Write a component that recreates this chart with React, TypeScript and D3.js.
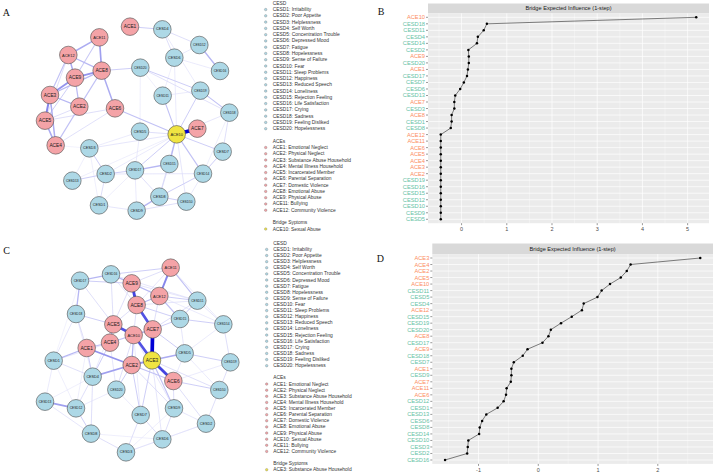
import React from "react";
import * as d3 from "d3";

const W = 715;
const H = 474;

// Item descriptions
const cesdDesc = [
  "Irritability", "Poor Appetite", "Helplessness", "Self Worth", "Concentration Trouble",
  "Depressed Mood", "Fatigue", "Hopelessness", "Sense of Failure", "Fear",
  "Sleep Problems", "Happiness", "Reduced Speech", "Loneliness", "Rejection Feeling",
  "Life Satisfaction", "Crying", "Sadness", "Feeling Disliked", "Hopelessness",
];
const aceDesc = [
  "Emotional Neglect", "Physical Neglect", "Substance Abuse Household", "Mental Illness Household",
  "Incarcerated Member", "Parental Separation", "Domestic Violence", "Emotional Abuse",
  "Physical Abuse", "Sexual Abuse", "Bullying", "Community Violence",
];

// Network 1 layout (layout grid units, 750 x 720)
const netANodes: [string, number, number][] = [
  ["ACE1", 390, 80], ["ACE11", 298, 112], ["ACE12", 205, 165], ["ACE8", 305, 212],
  ["ACE9", 225, 233], ["ACE3", 150, 285], ["ACE2", 238, 320], ["ACE6", 345, 325],
  ["ACE5", 135, 362], ["ACE4", 167, 436], ["ACE7", 592, 386], ["ACE10", 530, 403],
  ["CESD4", 487, 88], ["CESD12", 598, 135], ["CESD6", 523, 173], ["CESD16", 660, 213],
  ["CESD20", 421, 203], ["CESD19", 601, 272], ["CESD11", 488, 287], ["CESD18", 688, 338],
  ["CESD5", 420, 395], ["CESD7", 668, 455], ["CESD3", 268, 445], ["CESD15", 508, 492],
  ["CESD17", 405, 511], ["CESD2", 317, 522], ["CESD14", 609, 521], ["CESD13", 217, 542],
  ["CESD8", 478, 590], ["CESD10", 559, 605], ["CESD1", 297, 616], ["CESD9", 410, 632],
];
const netAEdges: [string, string, number][] = [
  ["ACE7", "ACE10", 1.0],
  ["ACE11", "ACE12", 0.35], ["ACE11", "ACE8", 0.4], ["ACE11", "ACE9", 0.22],
  ["ACE12", "ACE9", 0.35], ["ACE12", "ACE8", 0.3], ["ACE12", "ACE3", 0.25],
  ["ACE9", "ACE8", 0.45], ["ACE9", "ACE3", 0.45], ["ACE9", "ACE2", 0.28],
  ["ACE3", "ACE8", 0.3], ["ACE3", "ACE5", 0.5], ["ACE3", "ACE2", 0.3], ["ACE3", "ACE4", 0.35],
  ["ACE5", "ACE4", 0.35], ["ACE2", "ACE4", 0.25], ["ACE2", "ACE8", 0.25], ["ACE8", "ACE6", 0.35],
  ["ACE5", "ACE6", 0.15], ["ACE4", "ACE6", 0.14], ["ACE5", "ACE2", 0.15], ["ACE9", "ACE5", 0.2],
  ["ACE12", "ACE5", 0.15], ["ACE6", "ACE10", 0.25], ["ACE8", "CESD20", 0.2], ["ACE1", "CESD4", 0.2],
  ["ACE4", "CESD3", 0.06],
  ["CESD20", "CESD19", 0.2], ["CESD20", "CESD18", 0.14], ["CESD4", "CESD6", 0.15],
  ["CESD4", "CESD12", 0.15], ["CESD4", "CESD19", 0.1], ["CESD12", "CESD16", 0.3],
  ["CESD12", "CESD6", 0.1], ["CESD6", "CESD16", 0.1], ["CESD6", "CESD11", 0.08],
  ["CESD6", "ACE10", 0.1], ["CESD20", "CESD5", 0.08], ["CESD19", "CESD18", 0.25],
  ["CESD19", "ACE10", 0.2], ["CESD11", "ACE10", 0.25], ["CESD18", "CESD7", 0.15],
  ["CESD18", "ACE10", 0.12], ["CESD7", "ACE10", 0.2], ["CESD14", "ACE10", 0.25],
  ["CESD15", "ACE10", 0.3], ["CESD17", "ACE10", 0.2], ["CESD5", "ACE10", 0.15],
  ["CESD3", "ACE10", 0.12], ["CESD8", "ACE10", 0.15], ["CESD10", "ACE10", 0.12],
  ["CESD2", "ACE10", 0.1], ["CESD13", "ACE10", 0.08], ["CESD15", "CESD17", 0.3],
  ["CESD15", "CESD8", 0.15], ["CESD17", "CESD2", 0.2], ["CESD17", "CESD8", 0.15],
  ["CESD17", "CESD9", 0.1], ["CESD2", "CESD3", 0.2], ["CESD2", "CESD13", 0.2],
  ["CESD2", "CESD1", 0.15], ["CESD3", "CESD5", 0.1], ["CESD2", "CESD14", 0.12],
  ["CESD14", "CESD8", 0.2], ["CESD14", "CESD7", 0.2], ["CESD14", "CESD10", 0.1],
  ["CESD8", "CESD9", 0.3], ["CESD8", "CESD10", 0.2], ["CESD9", "CESD10", 0.15],
  ["CESD1", "CESD9", 0.12], ["CESD1", "CESD17", 0.08], ["CESD3", "CESD13", 0.08],
  ["CESD3", "CESD1", 0.08], ["CESD18", "CESD14", 0.08], ["CESD11", "CESD19", 0.1],
  ["CESD20", "CESD11", 0.08], ["CESD5", "CESD17", 0.1],
];
const netABridge = "ACE10";

// Network 2 layout (layout grid units, 750 x 717)
const netCNodes: [string, number, number][] = [
  ["ACE11", 512, 98], ["CESD16", 333, 118], ["CESD17", 240, 137], ["ACE9", 395, 145],
  ["ACE12", 478, 183], ["CESD11", 592, 197], ["ACE8", 410, 210], ["CESD18", 228, 237],
  ["CESD15", 540, 252], ["CESD14", 670, 268], ["ACE5", 340, 268], ["ACE7", 458, 283],
  ["ACE10", 401, 300], ["ACE4", 330, 323], ["ACE1", 260, 339], ["CESD5", 554, 355],
  ["CESD1", 161, 377], ["ACE3", 456, 376], ["ACE2", 395, 390], ["CESD19", 691, 382],
  ["ACE6", 520, 438], ["CESD4", 278, 425], ["CESD20", 349, 464], ["CESD10", 658, 465],
  ["CESD13", 135, 500], ["CESD12", 228, 520], ["CESD7", 422, 540], ["CESD9", 522, 520],
  ["CESD8", 273, 596], ["CESD2", 618, 566], ["CESD6", 487, 613], ["CESD3", 378, 652],
];
const netCEdges: [string, string, number][] = [
  ["ACE3", "ACE7", 1.0], ["ACE3", "ACE6", 0.75], ["ACE3", "ACE10", 0.7], ["ACE5", "ACE10", 0.7],
  ["ACE8", "ACE7", 0.7], ["ACE9", "ACE8", 0.75], ["ACE11", "ACE12", 0.5], ["ACE1", "ACE2", 0.45],
  ["ACE2", "ACE3", 0.45], ["ACE2", "CESD4", 0.4], ["CESD13", "CESD12", 0.4], ["ACE3", "CESD5", 0.35],
  ["ACE12", "ACE8", 0.3], ["ACE9", "ACE12", 0.3], ["ACE9", "CESD16", 0.3], ["CESD17", "CESD16", 0.3],
  ["CESD17", "CESD18", 0.3], ["ACE11", "CESD11", 0.25], ["ACE12", "CESD15", 0.25], ["ACE1", "CESD1", 0.3],
  ["ACE5", "ACE4", 0.3], ["ACE4", "ACE10", 0.25], ["ACE1", "ACE4", 0.25], ["ACE7", "ACE10", 0.3],
  ["ACE2", "ACE10", 0.3], ["ACE2", "ACE6", 0.25], ["ACE3", "CESD9", 0.25], ["ACE2", "CESD7", 0.2],
  ["ACE2", "CESD20", 0.2], ["ACE6", "CESD2", 0.15], ["ACE6", "CESD10", 0.2], ["CESD5", "CESD19", 0.2],
  ["CESD15", "CESD14", 0.2], ["CESD11", "CESD15", 0.2], ["CESD14", "CESD19", 0.15], ["CESD19", "CESD10", 0.15],
  ["CESD10", "CESD2", 0.15], ["CESD9", "CESD6", 0.15], ["CESD7", "CESD6", 0.15], ["CESD7", "CESD3", 0.15],
  ["CESD8", "CESD3", 0.15], ["CESD12", "CESD8", 0.2], ["CESD4", "CESD12", 0.15], ["CESD4", "CESD8", 0.15],
  ["CESD4", "CESD1", 0.15], ["CESD1", "CESD18", 0.12], ["CESD13", "CESD8", 0.12], ["CESD6", "CESD3", 0.12],
  ["CESD6", "CESD2", 0.12], ["CESD9", "CESD2", 0.12], ["ACE5", "CESD18", 0.2], ["ACE5", "CESD17", 0.15],
  ["ACE9", "CESD17", 0.2], ["ACE11", "CESD16", 0.2], ["ACE8", "CESD15", 0.2], ["ACE7", "CESD15", 0.2],
  ["ACE7", "CESD5", 0.2], ["ACE12", "CESD11", 0.2], ["ACE10", "CESD20", 0.15], ["ACE4", "CESD4", 0.2],
  ["ACE1", "CESD18", 0.15], ["ACE1", "CESD4", 0.2], ["ACE2", "CESD9", 0.15], ["ACE3", "CESD7", 0.2],
  ["ACE3", "CESD6", 0.12], ["ACE6", "CESD9", 0.15], ["ACE3", "CESD10", 0.15], ["ACE10", "CESD9", 0.12],
  ["ACE5", "CESD16", 0.15], ["ACE8", "CESD16", 0.12], ["ACE11", "CESD14", 0.1], ["ACE12", "CESD14", 0.1],
  ["CESD11", "CESD14", 0.12], ["CESD16", "CESD11", 0.12], ["ACE9", "CESD11", 0.12], ["ACE4", "CESD1", 0.12],
  ["ACE4", "CESD20", 0.12], ["CESD20", "CESD7", 0.1], ["CESD20", "CESD12", 0.1], ["CESD13", "CESD1", 0.1],
  ["CESD13", "CESD4", 0.08], ["ACE1", "CESD12", 0.08], ["ACE10", "CESD7", 0.1], ["ACE5", "CESD4", 0.1],
  ["CESD18", "CESD4", 0.1], ["CESD5", "CESD14", 0.1], ["CESD5", "CESD10", 0.1], ["CESD15", "CESD5", 0.12],
  ["ACE7", "CESD11", 0.15], ["ACE8", "CESD11", 0.12], ["ACE6", "CESD5", 0.1], ["ACE6", "CESD19", 0.1],
  ["CESD8", "CESD6", 0.08], ["CESD3", "CESD9", 0.08], ["CESD2", "CESD3", 0.06], ["CESD1", "CESD12", 0.08],
  ["CESD17", "CESD1", 0.06], ["ACE9", "ACE5", 0.15], ["ACE8", "ACE5", 0.15], ["ACE12", "ACE7", 0.15],
  ["ACE11", "ACE8", 0.12], ["ACE11", "ACE9", 0.15], ["ACE10", "ACE8", 0.15],
];
const netCBridge = "ACE3";

// Bridge expected influence (1-step), network 1
const bCats = [
  "ACE10", "CESD18", "CESD11", "CESD4", "CESD14", "CESD2", "ACE9", "CESD20", "ACE1", "CESD17",
  "CESD7", "CESD6", "CESD13", "ACE7", "CESD3", "ACE8", "CESD1", "CESD8", "ACE12", "ACE11",
  "ACE6", "ACE5", "ACE4", "ACE3", "ACE2", "CESD19", "CESD16", "CESD15", "CESD12", "CESD10",
  "CESD9", "CESD5",
];
const bVals = [
  5.19, 0.56, 0.49, 0.36, 0.34, 0.15, 0.16, 0.16, 0.14, 0.12,
  0.05, -0.03, -0.14, -0.16, -0.16, -0.22, -0.22, -0.24, -0.46, -0.46,
  -0.46, -0.46, -0.46, -0.46, -0.46, -0.46, -0.46, -0.46, -0.46, -0.46,
  -0.46, -0.46,
];
const bTicks = [0, 1, 2, 3, 4, 5];

// Bridge expected influence (1-step), network 2
const dCats = [
  "ACE3", "ACE4", "ACE2", "ACE5", "ACE10", "CESD11", "CESD5", "CESD4", "ACE12", "CESD15",
  "CESD19", "CESD20", "ACE8", "CESD17", "ACE9", "CESD18", "CESD7", "ACE1", "CESD9", "ACE7",
  "ACE11", "ACE6", "CESD12", "CESD1", "CESD13", "CESD6", "CESD8", "CESD14", "CESD10", "CESD3",
  "CESD2", "CESD16",
];
const dVals = [
  2.71, 1.545, 1.48, 1.38, 1.2, 1.06, 0.99, 0.76, 0.73, 0.56,
  0.38, 0.21, 0.17, 0.07, -0.18, -0.26, -0.41, -0.45, -0.45, -0.46,
  -0.53, -0.54, -0.58, -0.68, -0.87, -0.94, -0.98, -0.99, -1.17, -1.18,
  -1.19, -1.56,
];
const dTicks = [-1, 0, 1, 2];

const SANS = "'Liberation Sans', Arial, Helvetica, sans-serif";
const SERIF = "'Liberation Serif', 'Times New Roman', serif";
const FILL_CESD = "#ADD8E6";
const FILL_ACE = "#F4A3A7";
const FILL_BRIDGE = "#F0E442";
const COL_ACE = "#FC8D62";
const COL_CESD = "#66C2A5";
const NODE_R = 8.8;

const glyphW: Record<string, number> = { A: 0.667, C: 0.722, E: 0.667, S: 0.667, D: 0.722 };
function labelSize(s: string) {
  let em = 0;
  for (const ch of s) em += glyphW[ch] ?? 0.556;
  return Math.min(5, 12.6 / em);
}

function Network({ nodes, edges, bridge, xs, ys }: any) {
  const pos = new Map<string, [number, number]>(
    nodes.map(([id, x, y]: [string, number, number]) => [id, [xs(x), ys(y)]])
  );
  const sorted = [...edges].sort((a, b) => a[2] - b[2]);
  const col = d3.interpolateRgb("#ffffff", "#0000D5");
  return (
    <g>
      {sorted.map(([s, t, w]: [string, string, number], i: number) => {
        const [x1, y1] = pos.get(s)!;
        const [x2, y2] = pos.get(t)!;
        return (
          <line key={i} x1={x1} y1={y1} x2={x2} y2={y2}
            stroke={col(Math.min(1, 0.07 + 0.95 * Math.pow(w, 1.25)))}
            strokeWidth={0.3 + 3.4 * w} strokeLinecap="round" />
        );
      })}
      {nodes.map(([id]: [string]) => {
        const [cx, cy] = pos.get(id)!;
        const fill = id === bridge ? FILL_BRIDGE : id.startsWith("ACE") ? FILL_ACE : FILL_CESD;
        return (
          <g key={id}>
            <circle cx={cx} cy={cy} r={NODE_R} fill={fill} stroke="#4d4d4d" strokeWidth={0.6} />
            <text x={cx} y={cy} textAnchor="middle" dominantBaseline="central"
              fontFamily={SANS} fontSize={labelSize(id)} fill="#1a1a1a">{id}</text>
          </g>
        );
      })}
    </g>
  );
}

type LegendLine = { kind: "header" | "item" | "blank"; text?: string; fill?: string };
function legendLines(aceIds: number[], bridgeIdx: number): LegendLine[] {
  const out: LegendLine[] = [{ kind: "header", text: "CESD" }];
  cesdDesc.forEach((d, i) => out.push({ kind: "item", text: `CESD${i + 1}: ${d}`, fill: FILL_CESD }));
  out.push({ kind: "blank" }, { kind: "header", text: "ACEs" });
  aceIds.forEach((n) => out.push({ kind: "item", text: `ACE${n}: ${aceDesc[n - 1]}`, fill: FILL_ACE }));
  out.push({ kind: "blank" }, { kind: "header", text: "Bridge Syptoms" });
  out.push({ kind: "item", text: `ACE${bridgeIdx}: ${aceDesc[bridgeIdx - 1]}`, fill: FILL_BRIDGE });
  return out;
}

function Legend({ lines, top, step, dotX, textX }: any) {
  return (
    <g fontFamily={SANS} fontSize={4.9} fill="#333">
      {lines.map((l: LegendLine, i: number) => {
        const y = top + i * step;
        if (l.kind === "blank") return null;
        return (
          <g key={i}>
            {l.kind === "item" && (
              <circle cx={dotX} cy={y} r={1.25} fill={l.fill} stroke="#777" strokeWidth={0.35} />
            )}
            <text x={textX} y={y} dominantBaseline="central">{l.text}</text>
          </g>
        );
      })}
    </g>
  );
}

function InfluencePlot({ cats, vals, ticks, left, right, stripTop, panelTop, panelBottom }: any) {
  const [lo, hi] = d3.extent(vals as number[]) as [number, number];
  const pad = (hi - lo) * 0.05;
  const x = d3.scaleLinear().domain([lo - pad, hi + pad]).range([left, right]);
  const y = d3.scalePoint<string>().domain(cats).range([panelTop, panelBottom]).padding(0.6);
  const [d0, d1] = x.domain();
  const minor = [ticks[0] - 0.5, ...ticks.map((t: number) => t + 0.5)].filter((m) => m > d0 && m < d1);
  const pts: [string, number][] = cats.map((c: string, i: number) => [c, vals[i]]);
  const path = d3.line<[string, number]>().x((d) => x(d[1])).y((d) => y(d[0])!)(pts)!;
  return (
    <g fontFamily={SANS}>
      <rect x={left} y={stripTop} width={right - left} height={panelTop - stripTop} fill="#D9D9D9" />
      <text x={(left + right) / 2} y={(stripTop + panelTop) / 2} textAnchor="middle"
        dominantBaseline="central" fontSize={5.6} fill="#1a1a1a">Bridge Expected Influence (1-step)</text>
      <rect x={left} y={panelTop} width={right - left} height={panelBottom - panelTop} fill="#EBEBEB" />
      {minor.map((m: number) => (
        <line key={"m" + m} x1={x(m)} x2={x(m)} y1={panelTop} y2={panelBottom} stroke="#fff" strokeWidth={0.35} />
      ))}
      {ticks.map((t: number) => (
        <line key={"t" + t} x1={x(t)} x2={x(t)} y1={panelTop} y2={panelBottom} stroke="#fff" strokeWidth={0.7} />
      ))}
      {cats.map((c: string) => (
        <line key={"h" + c} x1={left} x2={right} y1={y(c)} y2={y(c)} stroke="#fff" strokeWidth={0.7} />
      ))}
      <path d={path} fill="none" stroke="#1a1a1a" strokeWidth={0.55} />
      {pts.map(([c, v]) => (
        <circle key={"p" + c} cx={x(v)} cy={y(c)} r={1.25} fill="#000" />
      ))}
      {cats.map((c: string) => (
        <g key={"y" + c}>
          <line x1={left - 2} x2={left} y1={y(c)} y2={y(c)} stroke="#333" strokeWidth={0.5} />
          <text x={left - 3} y={y(c)} textAnchor="end" dominantBaseline="central" fontSize={5.7}
            fill={c.startsWith("ACE") ? COL_ACE : COL_CESD}>{c}</text>
        </g>
      ))}
      {ticks.map((t: number) => (
        <g key={"x" + t}>
          <line x1={x(t)} x2={x(t)} y1={panelBottom} y2={panelBottom + 2} stroke="#333" strokeWidth={0.5} />
          <text x={x(t)} y={panelBottom + 6} textAnchor="middle" dominantBaseline="central"
            fontSize={5.5} fill="#4D4D4D">{t < 0 ? `-${Math.abs(t)}` : t}</text>
        </g>
      ))}
    </g>
  );
}

export default function App() {
  const xsA = d3.scaleLinear().domain([0, 750]).range([0, 250]);
  const ysA = d3.scaleLinear().domain([0, 720]).range([0, 240]);
  const xsC = d3.scaleLinear().domain([0, 750]).range([0, 250]);
  const ysC = d3.scaleLinear().domain([0, 717]).range([235, 474]);
  const allAce = d3.range(1, 13);
  const legA = legendLines(allAce.filter((n) => n !== 10), 10);
  const legC = legendLines(allAce, 3);
  return (
    <svg width={W} height={H} viewBox={`0 0 ${W} ${H}`}
      style={{ position: "absolute", left: 0, top: 0, background: "#fff" }}>
      <rect width={W} height={H} fill="#fff" />
      <Network nodes={netANodes} edges={netAEdges} bridge={netABridge} xs={xsA} ys={ysA} />
      <Network nodes={netCNodes} edges={netCEdges} bridge={netCBridge} xs={xsC} ys={ysC} />
      <Legend lines={legA} top={3.3} step={6.27} dotX={265.7} textX={272.7} />
      <Legend lines={legC} top={243.3} step={6.12} dotX={266.7} textX={273.3} />
      <InfluencePlot cats={bCats} vals={bVals} ticks={bTicks} left={428} right={709}
        stripTop={3.5} panelTop={13.4} panelBottom={223.2} />
      <InfluencePlot cats={dCats} vals={dVals} ticks={dTicks} left={432.3} right={713}
        stripTop={243.5} panelTop={254.1} panelBottom={463.9} />
      <g fontFamily={SERIF} fontSize={10} fill="#111">
        <text x={2.7} y={15.7}>A</text>
        <text x={377.7} y={15}>B</text>
        <text x={3.3} y={254}>C</text>
        <text x={376.7} y={261.7}>D</text>
      </g>
    </svg>
  );
}
